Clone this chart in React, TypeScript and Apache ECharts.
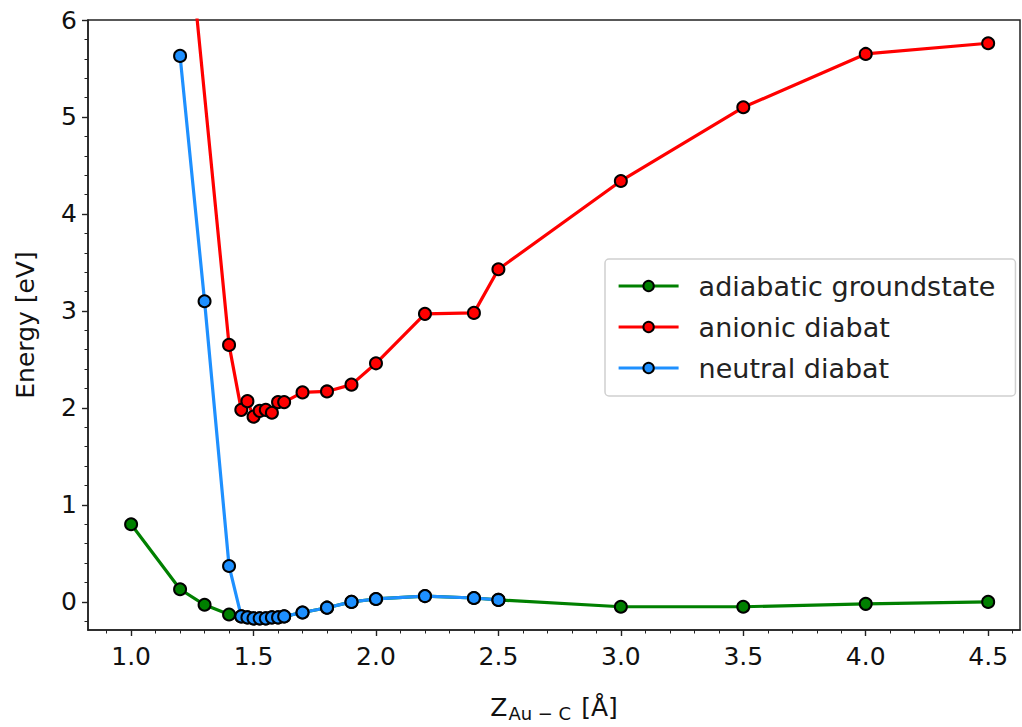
import React, { useEffect, useRef } from "react";
import * as echarts from "echarts";

const zAdiabatic = [1.0, 1.2, 1.3, 1.4, 1.45, 1.475, 1.5, 1.525, 1.55, 1.575, 1.6, 1.625, 1.7, 1.8, 1.9, 2.0, 2.2, 2.4, 2.5, 3.0, 3.5, 4.0, 4.5];
const eAdiabatic = [0.80, 0.13, -0.03, -0.13, -0.15, -0.16, -0.17, -0.17, -0.17, -0.16, -0.16, -0.15, -0.11, -0.06, 0.0, 0.03, 0.06, 0.04, 0.02, -0.05, -0.05, -0.02, 0.0];

const zAnionic = [1.2, 1.4, 1.45, 1.475, 1.5, 1.525, 1.55, 1.575, 1.6, 1.625, 1.7, 1.8, 1.9, 2.0, 2.2, 2.4, 2.5, 3.0, 3.5, 4.0, 4.5];
const eAnionic = [7.8, 2.65, 1.98, 2.07, 1.91, 1.97, 1.98, 1.95, 2.06, 2.06, 2.16, 2.17, 2.24, 2.46, 2.97, 2.98, 3.43, 4.34, 5.10, 5.65, 5.76];

const zNeutral = [1.2, 1.3, 1.4, 1.45, 1.475, 1.5, 1.525, 1.55, 1.575, 1.6, 1.625, 1.7, 1.8, 1.9, 2.0, 2.2, 2.4, 2.5];
const eNeutral = [5.63, 3.10, 0.37, -0.15, -0.16, -0.17, -0.17, -0.17, -0.16, -0.16, -0.15, -0.11, -0.06, 0.0, 0.03, 0.06, 0.04, 0.02];

const xMajorTicks = [1.0, 1.5, 2.0, 2.5, 3.0, 3.5, 4.0, 4.5];
const xMinorTicks = [0.9, 1.1, 1.2, 1.3, 1.4, 1.6, 1.7, 1.8, 1.9, 2.1, 2.2, 2.3, 2.4, 2.6, 2.7, 2.8, 2.9, 3.1, 3.2, 3.3, 3.4, 3.6, 3.7, 3.8, 3.9, 4.1, 4.2, 4.3, 4.4, 4.6];
const yMajorTicks = [0, 1, 2, 3, 4, 5, 6];
const yMinorTicks = [-0.2, 0.2, 0.4, 0.6, 0.8, 1.2, 1.4, 1.6, 1.8, 2.2, 2.4, 2.6, 2.8, 3.2, 3.4, 3.6, 3.8, 4.2, 4.4, 4.6, 4.8, 5.2, 5.4, 5.6, 5.8];

const X_MIN = 0.824;
const X_MAX = 4.63;
const Y_MIN = -0.29;
const Y_MAX = 6;

const FONT = "DejaVu Sans";
const FS = 25;
const INK = "#111";

function pairs(xs: number[], ys: number[]) {
  return xs.map((x, i) => [x, ys[i]]);
}

export default function App() {
  const ref = useRef<HTMLDivElement>(null);
  useEffect(() => {
    if (!ref.current) return;
    const chart = echarts.init(ref.current, undefined, { renderer: "svg" });
    const lineSeries = (name: string, color: string, data: number[][]) => ({
      name,
      type: "line",
      data,
      xAxisIndex: 0,
      yAxisIndex: 0,
      symbol: "circle",
      symbolSize: 12,
      showSymbol: true,
      clip: true,
      lineStyle: { color, width: 3.2 },
      itemStyle: { color, borderColor: "#000", borderWidth: 2 },
      emphasis: { disabled: true },
    });
    chart.setOption({
      animation: false,
      backgroundColor: "#fff",
      grid: {
        left: 88,
        right: 2,
        top: 20,
        bottom: 95,
        show: true,
        borderColor: "#222",
        borderWidth: 1.5,
        backgroundColor: "transparent",
      },
      legend: {
        orient: "vertical",
        left: 605,
        top: 259,
        padding: [12, 20, 13, 12],
        itemGap: 11,
        itemWidth: 60,
        itemHeight: 13,
        backgroundColor: "#fff",
        borderColor: "#d0d0d0",
        borderWidth: 1.5,
        borderRadius: 4,
        lineStyle: { width: 3.2 },
        textStyle: { fontFamily: FONT, fontSize: 27, lineHeight: 30, color: "#222", padding: [0, 0, 0, 15] },
        data: ["adiabatic groundstate", "anionic diabat", "neutral diabat"],
      },
      xAxis: [
        {
          type: "value",
          min: X_MIN,
          max: X_MAX,
          position: "bottom",
          name: "{z|Z}{s|Au − C}{z| [Å]}",
          nameLocation: "middle",
          nameGap: 62,
          nameTextStyle: {
            rich: {
              z: { fontFamily: FONT, fontSize: FS, color: INK },
              s: { fontFamily: FONT, fontSize: 18, color: INK, padding: [12, 2, 0, 1] },
            },
          },
          axisLine: { show: true, onZero: false, lineStyle: { color: "#222", width: 1.5 } },
          axisTick: { show: true, customValues: xMajorTicks, length: 6, inside: false, lineStyle: { color: "#222", width: 1.4 } },
          axisLabel: {
            customValues: xMajorTicks,
            formatter: (v: number) => v.toFixed(1),
            fontFamily: FONT,
            fontSize: FS,
            color: INK,
            margin: 14,
          },
          splitLine: { show: false },
        },
        {
          type: "value",
          min: X_MIN,
          max: X_MAX,
          position: "bottom",
          axisLine: { show: false, onZero: false },
          axisTick: { show: true, customValues: xMinorTicks, length: 3.5, lineStyle: { color: "#222", width: 1 } },
          axisLabel: { show: false },
          splitLine: { show: false },
        },
      ],
      yAxis: [
        {
          type: "value",
          min: Y_MIN,
          max: Y_MAX,
          position: "left",
          name: "Energy [eV]",
          nameLocation: "middle",
          nameGap: 50,
          nameTextStyle: { fontFamily: FONT, fontSize: FS, color: INK },
          axisLine: { show: true, onZero: false, lineStyle: { color: "#222", width: 1.5 } },
          axisTick: { show: true, customValues: yMajorTicks, length: 6, lineStyle: { color: "#222", width: 1.4 } },
          axisLabel: {
            customValues: yMajorTicks,
            formatter: (v: number) => String(v),
            fontFamily: FONT,
            fontSize: FS,
            color: INK,
            margin: 11,
          },
          splitLine: { show: false },
        },
        {
          type: "value",
          min: Y_MIN,
          max: Y_MAX,
          position: "left",
          axisLine: { show: false, onZero: false },
          axisTick: { show: true, customValues: yMinorTicks, length: 3.5, lineStyle: { color: "#222", width: 1 } },
          axisLabel: { show: false },
          splitLine: { show: false },
        },
      ],
      series: [
        lineSeries("adiabatic groundstate", "#008000", pairs(zAdiabatic, eAdiabatic)),
        lineSeries("anionic diabat", "#ff0000", pairs(zAnionic, eAnionic)),
        lineSeries("neutral diabat", "#1e90ff", pairs(zNeutral, eNeutral)),
      ],
    });
    return () => chart.dispose();
  }, []);
  return (
    <div
      ref={ref}
      style={{ position: "fixed", left: 0, top: 0, width: 1022, height: 727, background: "#fff" }}
    />
  );
}
